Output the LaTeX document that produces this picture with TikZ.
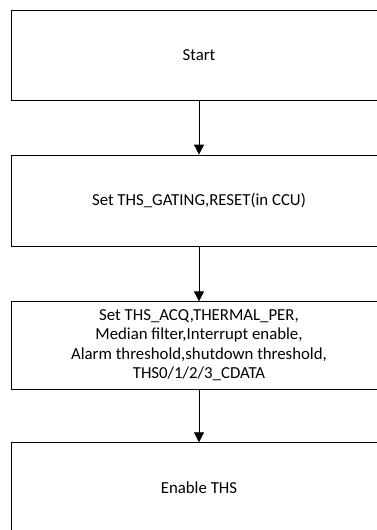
\documentclass[tikz,border=0pt]{standalone}
\usepackage{fontspec}
\setmainfont{Carlito}
\usetikzlibrary{arrows.meta}
\tikzset{
  stepbox/.style={draw=black, line width=0.8pt, rectangle, minimum width=376pt, inner sep=0pt, align=center, font=\fontsize{16.8}{19.5}\selectfont},
  flow/.style={draw=black, line width=0.8pt, -{Triangle[length=10pt,width=10pt]}}
}
\begin{document}
\begin{tikzpicture}[x=1pt,y=-1pt]
\useasboundingbox (0,0) rectangle (377,530);
\clip (0,0) rectangle (377,530);
\node[stepbox, minimum height=90pt] (start) at (199,55) {Start};
\node[stepbox, minimum height=91pt] (gating) at (199,200.5) {Set THS\_GATING,RESET(in CCU)};
\node[stepbox, minimum height=87.3pt] (config) at (199,345.4) {Set THS\_ACQ,THERMAL\_PER,\\Median filter,Interrupt enable,\\Alarm threshold,shutdown threshold,\\THS0/1/2/3\_CDATA};
\node[stepbox, minimum height=90.6pt] (enable) at (199,488) {Enable THS};
\draw[flow] (start) -- (gating);
\draw[flow] (gating) -- (config);
\draw[flow] (config) -- (enable);
\end{tikzpicture}
\end{document}
